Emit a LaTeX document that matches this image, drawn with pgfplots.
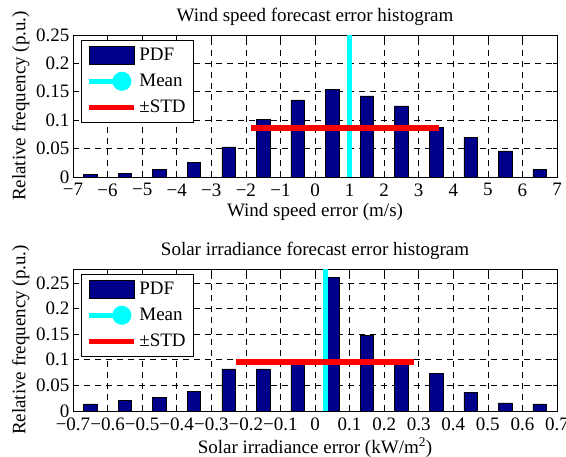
\documentclass[border=0pt]{standalone}
\usepackage{fontspec}
\setmainfont{Liberation Serif}
\usepackage{pgfplots}
\pgfplotsset{compat=1.18}

\definecolor{barnavy}{RGB}{0,0,140}
\definecolor{meancyan}{RGB}{0,255,255}
\definecolor{stdred}{RGB}{255,0,0}

\pgfplotsset{
  histo/.style={
    scale only axis,
    width=484bp, height=142bp,
    axis line style={black, line width=0.8bp},
    tick align=inside,
    xtick pos=both, ytick pos=both,
    major tick length=4bp,
    tick style={black, line width=0.6bp},
    grid=major,
    major grid style={black, line width=0.6bp, dash pattern=on 6bp off 5bp},
    font=\fontsize{19bp}{22bp}\selectfont,
    xticklabel style={yshift=-3bp},
    ymin=0,
    ytick={0,0.05,0.1,0.15,0.2,0.25},
    yticklabels={0,0.05,0.1,0.15,0.2,0.25},
    ylabel={Relative frequency (p.u.)},
    legend cell align=left,
    legend style={draw=black, line width=0.8bp, fill=white, anchor=north west,
      inner xsep=5bp, inner ysep=5bp, row sep=6bp,
      nodes={inner sep=3bp},
      font=\fontsize{19bp}{22bp}\selectfont},
  },
  pdfbar/.style={ybar, fill=barnavy, draw=black, line width=0.5bp,
    legend image code/.code={\draw[fill=barnavy,draw=black,line width=0.6bp] (0bp,-9bp) rectangle (45bp,9bp);}},
  meanline/.style={meancyan, line width=5bp,
    legend image code/.code={\draw[meancyan,line width=5bp] (0bp,0bp) -- (33bp,0bp); \fill[meancyan] (33bp,0bp) circle (7bp); \path (45bp,0bp);}},
  stdline/.style={stdred, line width=5.5bp,
    legend image code/.code={\draw[stdred,line width=5bp] (0bp,0bp) -- (45bp,0bp);}},
}

\begin{document}
\begin{tikzpicture}

% wind speed forecast error
\begin{axis}[histo, at={(0,0)},
  title={Wind speed forecast error histogram},
  xlabel={Wind speed error (m/s)},
  xmin=-7, xmax=7, ymax=0.25,
  xtick={-7,-6,...,7},
  xticklabels={−7,−6,−5,−4,−3,−2,−1,0,1,2,3,4,5,6,7},
  legend style={at={(0.0165,0.965)}},
]
\addplot[pdfbar, bar width=0.39] coordinates {
  (-6.5,0.005) (-5.5,0.007) (-4.5,0.014) (-3.5,0.026) (-2.5,0.053)
  (-1.5,0.101) (-0.5,0.136) (0.5,0.154) (1.5,0.143) (2.5,0.125)
  (3.5,0.087) (4.5,0.070) (5.5,0.046) (6.5,0.014)
};
\addlegendentry{PDF}
\addplot[meanline] coordinates {(1,0) (1,0.25)};
\addlegendentry{Mean}
\addplot[stdline] coordinates {(-1.85,0.0867) (3.6,0.0867)};
\addlegendentry{±STD}
\end{axis}

% solar irradiance forecast error
\begin{axis}[histo, at={(0,-234bp)},
  title={Solar irradiance forecast error histogram},
  xlabel={Solar irradiance error (kW/m\textsuperscript{2})},
  xmin=-0.7, xmax=0.7, ymax=0.277,
  xtick={-0.7,-0.6,...,0.71},
  xticklabels={−0.7,−0.6,−0.5,−0.4,−0.3,−0.2,−0.1,0,0.1,0.2,0.3,0.4,0.5,0.6,0.7},
  legend style={at={(0.0165,0.965)}},
]
\addplot[pdfbar, bar width=0.039] coordinates {
  (-0.65,0.014) (-0.55,0.021) (-0.45,0.026) (-0.35,0.039) (-0.25,0.082)
  (-0.15,0.082) (-0.05,0.092) (0.05,0.260) (0.15,0.148) (0.25,0.091)
  (0.35,0.074) (0.45,0.037) (0.55,0.016) (0.65,0.014)
};
\addlegendentry{PDF}
\addplot[meanline] coordinates {(0.03,0) (0.03,0.277)};
\addlegendentry{Mean}
\addplot[stdline] coordinates {(-0.228,0.096) (0.287,0.096)};
\addlegendentry{±STD}
\end{axis}

% page frame: axes sit 73bp from the left edge, the last tick label runs off the right edge
\pgfresetboundingbox
\path (-73bp,-280bp) rectangle (493bp,177bp);
\end{tikzpicture}
\end{document}
